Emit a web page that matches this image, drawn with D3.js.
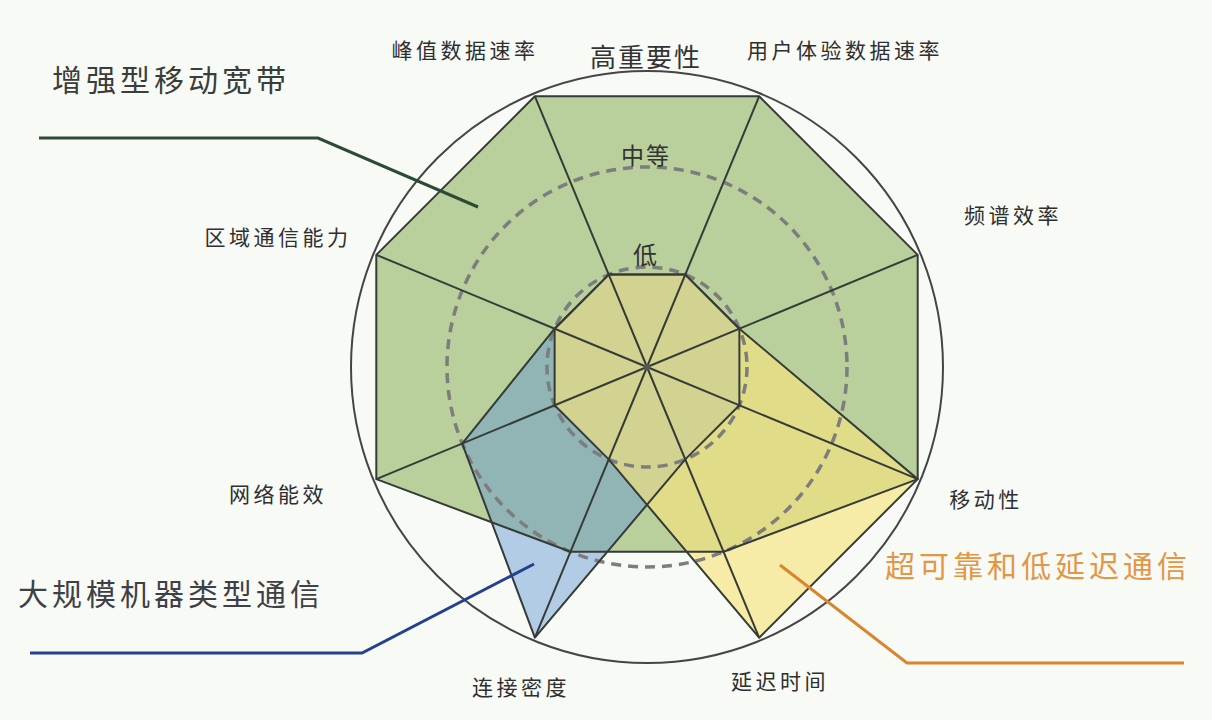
<!DOCTYPE html>
<html>
<head>
<meta charset="utf-8">
<script src="https://cdn.jsdelivr.net/npm/d3@7"></script>
<style>
  html, body { margin: 0; padding: 0; background: #f8faf6; }
  svg { display: block; font-family: "Noto Sans CJK SC", "Noto Sans", sans-serif; }
</style>
</head>
<body>
<svg class="radar" width="1212" height="720"></svg>
<script>
// 8 key capabilities, clockwise starting top-left
var axes = ["峰值数据速率", "用户体验数据速率", "频谱效率", "移动性", "延迟时间", "连接密度", "网络能效", "区域通信能力"];
var levels = ["低", "中等", "高重要性"];          // 1, 2, 3
var seriesNames = ["增强型移动宽带", "大规模机器类型通信", "超可靠和低延迟通信"];
var embb  = [3, 3, 3, 3, 2, 2, 3, 3];
var mmtc  = [1, 1, 1, 1, 1, 3, 2, 1];
var urllc = [1, 1, 1, 3, 3, 1, 1, 1];

var svg = d3.select(".radar"),
    cx = 647, cy = 367;

var rScale = d3.scaleLinear().domain([0, 1, 2, 3]).range([0, 100, 200, 293]);
var angle = d3.scaleLinear().domain([0, axes.length]).range([-Math.PI / 8, 2 * Math.PI - Math.PI / 8]);

var g = svg.append("g").attr("transform", "translate(" + cx + "," + cy + ")");

// outer circle
g.append("circle").attr("r", 296).attr("fill", "none").attr("stroke", "#454545").attr("stroke-width", 2);

var line = d3.lineRadial()
    .angle(function(d, i) { return angle(i); })
    .radius(function(d) { return rScale(d); })
    .curve(d3.curveLinearClosed);

var series = [
    { name: seriesNames[0], values: embb,  fill: "#b9cf9c", op: 1 },
    { name: seriesNames[1], values: mmtc,  fill: "#5f94d2", op: 0.45 },
    { name: seriesNames[2], values: urllc, fill: "#f6e47e", op: 0.65 }
];

g.selectAll(".area")
    .data(series)
    .enter().append("path")
    .attr("class", "area")
    .attr("d", function(d) { return line(d.values); })
    .attr("fill", function(d) { return d.fill; })
    .attr("fill-opacity", function(d) { return d.op; })
    .attr("stroke", "none");

// dashed level rings (low, medium)
g.selectAll(".ring")
    .data([1, 2])
    .enter().append("circle")
    .attr("r", function(d) { return rScale(d); })
    .attr("fill", "none")
    .attr("stroke", "#7d7d7d")
    .attr("stroke-width", 3.5)
    .attr("stroke-dasharray", "10,7");

// spokes
g.selectAll(".spoke")
    .data(axes)
    .enter().append("line")
    .attr("x1", 0).attr("y1", 0)
    .attr("x2", function(d, i) { return d3.pointRadial(angle(i), rScale(3))[0]; })
    .attr("y2", function(d, i) { return d3.pointRadial(angle(i), rScale(3))[1]; })
    .attr("stroke", "#353b37")
    .attr("stroke-width", 2);

// polygon outlines
g.selectAll(".outline")
    .data(series)
    .enter().append("path")
    .attr("d", function(d) { return line(d.values); })
    .attr("fill", "none")
    .attr("stroke", "#353b37")
    .attr("stroke-width", 2)
    .attr("stroke-linejoin", "round");

g.append("circle").attr("r", 3).attr("fill", "#555");

// level labels
var levelSize = [24, 23, 26];
g.selectAll(".level")
    .data(levels)
    .enter().append("text")
    .attr("x", -1)
    .attr("y", function(d, i) { return -rScale(i + 1) - (i == 2 ? 7 : 3); })
    .attr("text-anchor", "middle")
    .attr("font-size", function(d, i) { return levelSize[i]; })
    .attr("letter-spacing", 2)
    .attr("fill", "#333")
    .text(function(d) { return d; });

// axis labels (centre offsets from chart centre)
var labelPos = [[-182, -316], [198, -316], [366, -151], [339, 133], [133, 315], [-126, 321], [-369, 128], [-369, -129]];
g.selectAll(".axislabel")
    .data(axes)
    .enter().append("text")
    .attr("x", function(d, i) { return labelPos[i][0]; })
    .attr("y", function(d, i) { return labelPos[i][1]; })
    .attr("dy", "0.35em")
    .attr("text-anchor", "middle")
    .attr("font-size", 21)
    .attr("letter-spacing", 3.5)
    .attr("fill", "#2f2f2f")
    .text(function(d) { return d; });

// series titles with leader lines
var legend = [
    { x: 171, y: 91,  color: "#3a3d3a", lc: "#2c4a36", pts: [[39, 138], [318, 138], [478, 207]] },
    { x: 171, y: 605, color: "#3e4045", lc: "#22418f", pts: [[30, 653], [362, 653], [534, 564]] },
    { x: 1038, y: 577, color: "#e29746", lc: "#d9852e", pts: [[1184, 663], [907, 663], [780, 565]] }
];

svg.selectAll(".leader")
    .data(legend)
    .enter().append("path")
    .attr("d", function(d) { return d3.line()(d.pts); })
    .attr("fill", "none")
    .attr("stroke", function(d) { return d.lc; })
    .attr("stroke-width", 3);

svg.selectAll(".title")
    .data(legend)
    .enter().append("text")
    .attr("x", function(d) { return d.x; })
    .attr("y", function(d) { return d.y; })
    .attr("text-anchor", "middle")
    .attr("font-size", 30)
    .attr("letter-spacing", 4)
    .attr("fill", function(d) { return d.color; })
    .text(function(d, i) { return seriesNames[i]; });
</script>
</body>
</html>
